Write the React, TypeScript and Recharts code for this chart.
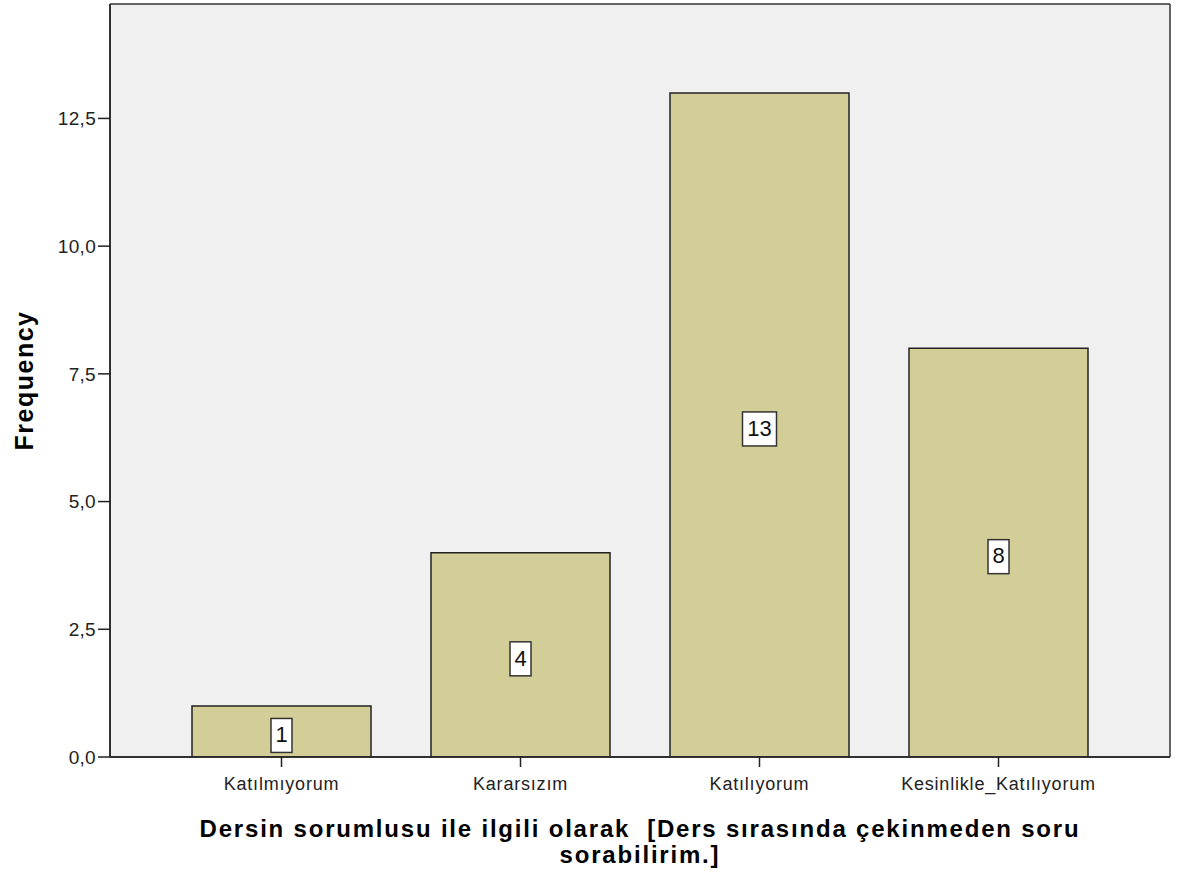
import { BarChart, Bar, XAxis, YAxis, CartesianGrid, LabelList, Label } from 'recharts';

const categories = ['Katılmıyorum', 'Kararsızım', 'Katılıyorum', 'Kesinlikle_Katılıyorum'];
const frequencies = [1, 4, 13, 8];
const yTicks = [0, 2.5, 5, 7.5, 10, 12.5];

const data = categories.map((name, i) => ({ name, value: frequencies[i] }));

const FONT = '"Liberation Sans", Arial, sans-serif';

const fmt = (v: number) => v.toFixed(1).replace('.', ',');

const ValueBox = (props: any) => {
    const { x, y, width, height, value } = props;
    const s = String(value);
    const w = 8 + 13 * s.length;
    const h = 34;
    const cx = x + width / 2;
    const cy = y + height / 2 + 4;
    return (
        <g>
            <rect x={cx - w / 2} y={cy - h / 2} width={w} height={h} fill="#fff" stroke="#333" strokeWidth={1.5} />
            <text x={cx} y={cy + 1} textAnchor="middle" dominantBaseline="middle" fontFamily={FONT} fontSize={22} fill="#111">
                {s}
            </text>
        </g>
    );
};

const XTitle = (props: any) => {
    const { viewBox } = props;
    const cx = viewBox.x + viewBox.width / 2;
    const common = {
        textAnchor: 'middle' as const,
        fontFamily: FONT,
        fontSize: 24,
        fontWeight: 'bold',
        letterSpacing: 1.8,
        fill: '#000',
    };
    return (
        <g>
            <text x={cx} y={837} {...common}>
                {'Dersin sorumlusu ile ilgili olarak\u00a0 [Ders sırasında çekinmeden soru'}
            </text>
            <text x={cx} y={863} {...common}>
                sorabilirim.]
            </text>
        </g>
    );
};

const YTitle = (props: any) => {
    const { viewBox } = props;
    const cy = viewBox.y + viewBox.height / 2;
    return (
        <text
            x={24}
            y={cy}
            transform={`rotate(-90, 24, ${cy})`}
            textAnchor="middle"
            dominantBaseline="central"
            fontFamily={FONT}
            fontSize={25}
            fontWeight="bold"
            letterSpacing={1.5}
            fill="#000"
        >
            Frequency
        </text>
    );
};

export default function App() {
    return (
        <div style={{ position: 'absolute', left: 0, top: 0, width: 1179, height: 881, background: '#fff' }}>
            <BarChart width={1179} height={881} data={data} margin={{ top: 4, right: 9, bottom: 74, left: 10 }}>
                <CartesianGrid
                    fill="#f0f0f0"
                    stroke="#333"
                    strokeWidth={1.5}
                    horizontalCoordinatesGenerator={({ offset }: any) => [offset.top, offset.top + offset.height]}
                    verticalCoordinatesGenerator={({ offset }: any) => [offset.left, offset.left + offset.width]}
                />
                <XAxis
                    dataKey="name"
                    height={50}
                    padding={{ left: 52, right: 52 }}
                    tickSize={10}
                    tickMargin={10}
                    tickLine={{ stroke: '#222', strokeWidth: 1.5 }}
                    axisLine={{ stroke: '#222', strokeWidth: 1.5 }}
                    tick={{ fontFamily: FONT, fontSize: 18, fill: '#222', letterSpacing: 0.8 }}
                    interval={0}
                >
                    <Label content={<XTitle />} />
                </XAxis>
                <YAxis
                    width={100}
                    domain={[0, 14.74]}
                    ticks={yTicks}
                    tickFormatter={fmt}
                    tickSize={12}
                    tickMargin={2}
                    tickLine={{ stroke: '#222', strokeWidth: 1.5 }}
                    axisLine={{ stroke: '#222', strokeWidth: 1.5 }}
                    tick={{ fontFamily: FONT, fontSize: 19, fill: '#222', letterSpacing: 0.3 }}
                    allowDataOverflow
                >
                    <Label content={<YTitle />} />
                </YAxis>
                <Bar dataKey="value" fill="#d3ce97" stroke="#222" strokeWidth={1.5} barSize={179} isAnimationActive={false}>
                    <LabelList dataKey="value" content={<ValueBox />} />
                </Bar>
            </BarChart>
        </div>
    );
}
